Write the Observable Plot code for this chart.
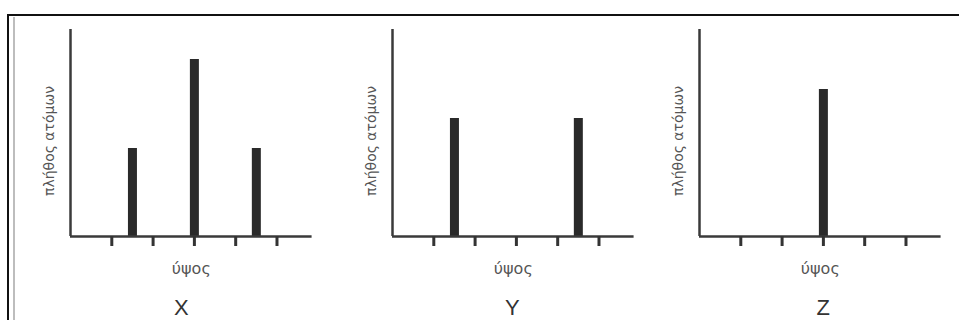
<!DOCTYPE html>
<html><head><meta charset="utf-8">
<script src="https://cdn.jsdelivr.net/npm/d3@7"></script>
<script src="https://cdn.jsdelivr.net/npm/@observablehq/plot@0.6"></script>
<style>
body{margin:0;background:#fff;}
#wrap{position:relative;width:959px;height:320px;overflow:hidden;background:#fff;}
#frameTop{position:absolute;left:7px;top:14px;width:952px;height:2px;background:#111;}
#frameLeft{position:absolute;left:7px;top:14px;width:2px;height:306px;background:#111;}
#frameGrey{position:absolute;left:13px;top:17px;width:2px;height:303px;background:#bdbdbd;}
.panel{position:absolute;top:0;}
</style></head><body>
<div id="wrap">
  <div id="frameTop"></div><div id="frameLeft"></div><div id="frameGrey"></div>
</div>
<script>
// ---- data ----
const panelNames = ["X", "Y", "Z"];
const tickPositions = [1, 2, 3, 4, 5];
const heightsX = [1.5, 3, 4.5];
const countsX = [42.5, 85.5, 42.5];
const heightsY = [1.5, 4.5];
const countsY = [57, 57];
const heightsZ = [3];
const countsZ = [71];
const yLabel = "πλήθος ατόμων";
const xLabel = "ύψος";

// ---- layout ----
const series = [
  {name: panelNames[0], h: heightsX, n: countsX, axisX: 70, letterDx: -10},
  {name: panelNames[1], h: heightsY, n: countsY, axisX: 392, letterDx: -1},
  {name: panelNames[2], h: heightsZ, n: countsZ, axisX: 699, letterDx: 3}
];
const mL = 60, mR = 8, inner = 241.6;
const wrap = document.getElementById("wrap");
const font = "'DejaVu Sans', 'Liberation Sans', Arial, sans-serif";

for (const s of series) {
  const data = s.h.map((h, i) => ({h, n: s.n[i]}));
  const chart = Plot.plot({
    width: mL + inner + mR,
    height: 320,
    marginLeft: mL,
    marginRight: mR,
    marginTop: 29,
    marginBottom: 84,
    style: {fontFamily: font, background: "transparent", overflow: "visible"},
    x: {domain: [0, 5.85]},
    y: {domain: [0, 100], axis: null},
    marks: [
      Plot.ruleX(data, {x: "h", y1: 0, y2: "n", stroke: "#2a2a2a", strokeWidth: 9}),
      Plot.ruleY([0], {stroke: "#3a3a3a", strokeWidth: 2.5}),
      Plot.ruleX([0], {stroke: "#3a3a3a", strokeWidth: 2.5}),
      Plot.axisX(tickPositions, {tickSize: 10, stroke: "#333", strokeWidth: 3, tickFormat: () => "", label: null}),
      Plot.text([yLabel], {frameAnchor: "left", textAnchor: "middle", lineAnchor: "middle", rotate: -90, dx: -21, dy: 8, fontSize: 14, fill: "#555", style: "letter-spacing:1.3px"}),
      Plot.text([xLabel], {frameAnchor: "bottom", dy: 32, fontSize: 16, fill: "#555", lineAnchor: "middle", style: "letter-spacing:1.8px"}),
      Plot.text([s.name], {frameAnchor: "bottom", dx: s.letterDx, dy: 71, fontSize: 22, fill: "#333", lineAnchor: "middle", fontFamily: "'Liberation Sans', Arial, sans-serif"})
    ]
  });
  const div = document.createElement("div");
  div.className = "panel";
  div.style.left = (s.axisX - mL) + "px";
  div.appendChild(chart);
  wrap.appendChild(div);
}
</script>
</body></html>
